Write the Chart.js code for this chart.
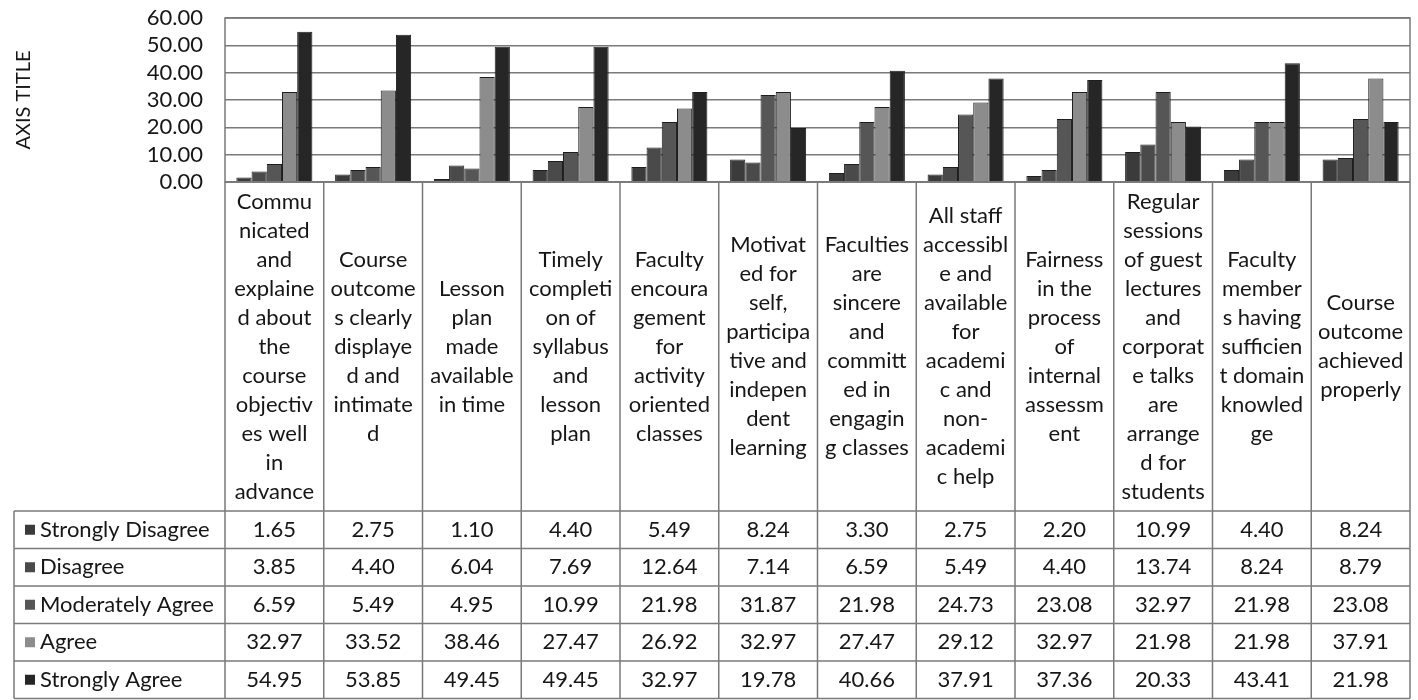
<!DOCTYPE html>
<html>
<head>
<meta charset="utf-8">
<title>Feedback chart</title>
<script src="https://cdn.jsdelivr.net/npm/chart.js@4.4.1/dist/chart.umd.min.js"></script>
<style>
  html, body { margin: 0; padding: 0; background: #fff; }
  canvas { display: block; }
</style>
</head>
<body>
<canvas id="feedbackChart" width="1418" height="700"></canvas>
<script>
// ── Data ─────────────────────────────────────────────────────
const categories = [
  ['Commu', 'nicated', 'and', 'explaine', 'd about', 'the', 'course', 'objectiv', 'es well', 'in', 'advance'],
  ['Course', 'outcome', 's clearly', 'displaye', 'd and', 'intimate', 'd'],
  ['Lesson', 'plan', 'made', 'available', 'in time'],
  ['Timely', 'completi', 'on of', 'syllabus', 'and', 'lesson', 'plan'],
  ['Faculty', 'encoura', 'gement', 'for', 'activity', 'oriented', 'classes'],
  ['Motivat', 'ed for', 'self,', 'participa', 'tive and', 'indepen', 'dent', 'learning'],
  ['Faculties', 'are', 'sincere', 'and', 'committ', 'ed in', 'engagin', 'g classes'],
  ['All staff', 'accessibl', 'e and', 'available', 'for', 'academi', 'c and', 'non-', 'academi', 'c help'],
  ['Fairness', 'in the', 'process', 'of', 'internal', 'assessm', 'ent'],
  ['Regular', 'sessions', 'of guest', 'lectures', 'and', 'corporat', 'e talks', 'are', 'arrange', 'd for', 'students'],
  ['Faculty', 'member', 's having', 'sufficien', 't domain', 'knowled', 'ge'],
  ['Course', 'outcome', 'achieved', 'properly']
];

const seriesNames = ['Strongly Disagree', 'Disagree', 'Moderately Agree', 'Agree', 'Strongly Agree'];

const stronglyDisagree = [1.65, 2.75, 1.10, 4.40, 5.49, 8.24, 3.30, 2.75, 2.20, 10.99, 4.40, 8.24];
const disagree         = [3.85, 4.40, 6.04, 7.69, 12.64, 7.14, 6.59, 5.49, 4.40, 13.74, 8.24, 8.79];
const moderatelyAgree  = [6.59, 5.49, 4.95, 10.99, 21.98, 31.87, 21.98, 24.73, 23.08, 32.97, 21.98, 23.08];
const agree            = [32.97, 33.52, 38.46, 27.47, 26.92, 32.97, 27.47, 29.12, 32.97, 21.98, 21.98, 37.91];
const stronglyAgree    = [54.95, 53.85, 49.45, 49.45, 32.97, 19.78, 40.66, 37.91, 37.36, 20.33, 43.41, 21.98];

const seriesValues = [stronglyDisagree, disagree, moderatelyAgree, agree, stronglyAgree];
const seriesColors = ['#3b3b3b', '#4a4a4a', '#565656', '#8c8c8c', '#262626'];

const FONT = 'Lato, "Noto Sans", sans-serif';
const TEXT = '#161616';
const LINE = '#7a7a7a';

// ── Data table drawn under the plot, aligned on the x scale ──
const dataTablePlugin = {
  id: 'dataTable',
  afterDraw(chart) {
    const ctx = chart.ctx;
    const area = chart.chartArea;
    const x = chart.scales.x;
    const n = categories.length;
    const colW = (area.right - area.left) / n;

    const headTop = area.bottom;
    const headBottom = area.bottom + 329;
    const rowH = 37.5;
    const tableLeft = 14;
    const tableBottom = headBottom + rowH * seriesNames.length;

    ctx.save();

    // plot area frame
    ctx.strokeStyle = LINE;
    ctx.lineWidth = 1.5;
    ctx.strokeRect(area.left, area.top, area.right - area.left, area.bottom - area.top);

    // grid lines of table
    ctx.beginPath();
    for (let i = 0; i <= n; i++) {
      const gx = area.left + i * colW;
      ctx.moveTo(gx, headTop);
      ctx.lineTo(gx, tableBottom);
    }
    ctx.moveTo(area.left, headTop);
    ctx.lineTo(area.right, headTop);
    for (let r = 0; r <= seriesNames.length; r++) {
      const gy = headBottom + r * rowH;
      ctx.moveTo(tableLeft, gy);
      ctx.lineTo(area.right, gy);
    }
    ctx.moveTo(tableLeft, headBottom);
    ctx.lineTo(tableLeft, tableBottom);
    ctx.stroke();

    // category headers
    ctx.fillStyle = TEXT;
    ctx.font = '22px ' + FONT;
    ctx.textAlign = 'center';
    ctx.textBaseline = 'middle';
    const lineH = 29;
    const midY = (headTop + headBottom) / 2;
    categories.forEach((lines, i) => {
      const cx = x.getPixelForValue(i);
      const y0 = midY - (lines.length - 1) * lineH / 2;
      lines.forEach((ln, j) => ctx.fillText(ln, cx, y0 + j * lineH));
    });

    // rows: legend key + label + values
    seriesNames.forEach((name, r) => {
      const cy = headBottom + r * rowH + rowH / 2;
      ctx.fillStyle = seriesColors[r];
      ctx.fillRect(25, cy - 5, 10, 10);
      ctx.fillStyle = TEXT;
      ctx.textAlign = 'left';
      ctx.fillText(name, 40, cy);
      ctx.textAlign = 'center';
      seriesValues[r].forEach((v, i) => {
        ctx.fillText(v.toFixed(2), x.getPixelForValue(i), cy);
      });
    });

    ctx.restore();
  }
};

new Chart(document.getElementById('feedbackChart'), {
  type: 'bar',
  data: {
    labels: categories.map(c => c.join(' ')),
    datasets: seriesNames.map((name, i) => ({
      label: name,
      data: seriesValues[i],
      backgroundColor: seriesColors[i],
      borderColor: '#1e1e1e',
      borderWidth: 1,
      categoryPercentage: 0.77,
      barPercentage: 1.0
    }))
  },
  options: {
    responsive: false,
    animation: false,
    layout: { padding: { top: 18, right: 8, bottom: 518, left: 0 } },
    plugins: {
      legend: { display: false },
      tooltip: { enabled: false }
    },
    scales: {
      x: { display: false },
      y: {
        min: 0,
        max: 60,
        // fixed axis width; tick padding must not push the plot top down
        afterFit: scale => {
          scale.width = 225;
          scale.paddingTop = 11;
          scale.paddingBottom = 11;
        },
        ticks: {
          stepSize: 10,
          autoSkip: false,
          maxTicksLimit: 20,
          padding: 22,
          color: TEXT,
          font: { family: FONT, size: 22, lineHeight: 1 },
          callback: v => v.toFixed(2)
        },
        grid: { color: LINE, lineWidth: 1.5, drawTicks: false },
        border: { display: false },
        title: {
          display: true,
          text: 'AXIS TITLE',
          color: TEXT,
          font: { family: FONT, size: 20 },
          padding: { top: 12, bottom: 0 }
        }
      }
    }
  },
  plugins: [dataTablePlugin]
});
</script>
</body>
</html>
